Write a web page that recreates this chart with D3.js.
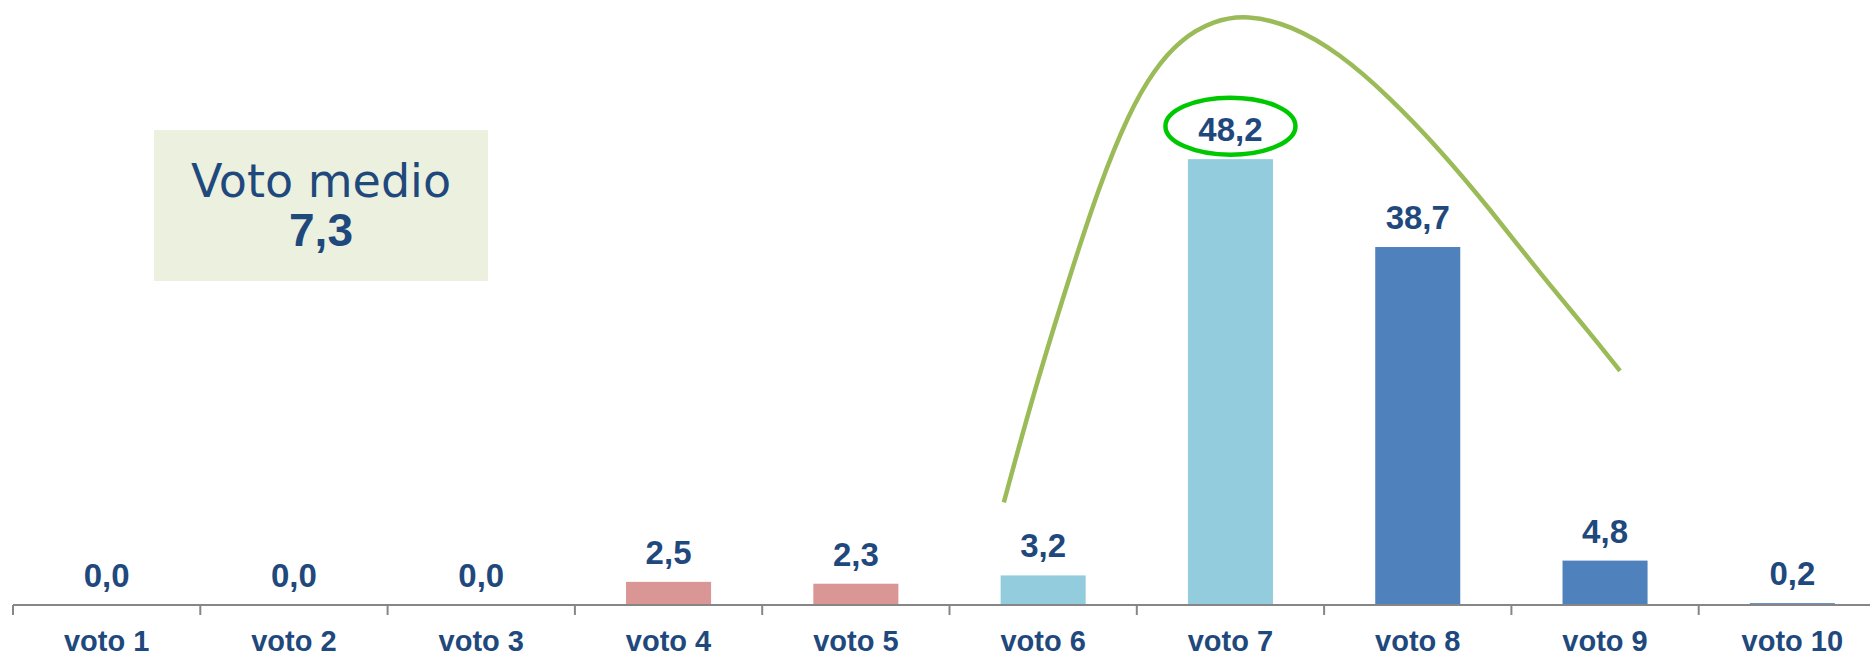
<!DOCTYPE html>
<html>
<head>
<meta charset="utf-8">
<title>Voto medio</title>
<script src="https://cdn.jsdelivr.net/npm/d3@7"></script>
<style>
  body { margin: 0; background: #fff; }
  svg { display: block; }
  .lbl { font-family: "Liberation Sans", Arial, sans-serif; font-weight: bold; fill: #1F497D; }
</style>
</head>
<body>
<svg id="chart" width="1870" height="657"></svg>
<script>

// --- data ---
const categories = ["voto 1", "voto 2", "voto 3", "voto 4", "voto 5", "voto 6", "voto 7", "voto 8", "voto 9", "voto 10"];
const values = [0.0, 0.0, 0.0, 2.5, 2.3, 3.2, 48.2, 38.7, 4.8, 0.2];
const groups = ["basso", "basso", "basso", "basso", "basso", "medio", "medio", "alto", "alto", "alto"];
const votoMedio = 7.3;
const highlighted = "voto 7";

// hand-drawn trend curve (x = category position 1..10, y = value)
const curveX = [5.79, 5.95, 6.13, 6.30, 6.46, 6.59, 6.73, 6.91, 7.09,
                7.32, 7.58, 7.85, 8.12, 8.39, 8.65, 8.92, 9.08];
const curveY = [11.1, 23.0, 34.8, 45.4, 53.3, 57.8, 61.1, 63.2, 63.8,
                62.7, 59.7, 54.9, 49.2, 42.7, 35.9, 29.4, 25.3];

const svg = d3.select("#chart");
const step = 187.3;
const left = 13, base = 605;

const fmt = d3.formatLocale({decimal: ",", thousands: ".", grouping: [3], currency: ["", "€"]}).format(".1f");

// category bands (no padding) for the axis, padded bands for bars
const xCat = d3.scaleBand().domain(categories).range([left, left + step * categories.length]).padding(0);
const x = d3.scaleBand().domain(categories).range([left, left + step * categories.length])
    .paddingInner(0.546).paddingOuter(0.273);
const xPos = d3.scaleLinear().domain([0.5, 10.5]).range([left, left + step * categories.length]);
const y = d3.scaleLinear().domain([0, 60]).range([base, base - 555]);

const color = d3.scaleOrdinal().domain(["basso", "medio", "alto"]).range(["#D99694", "#93CDDD", "#4F81BD"]);

// info box
const box = svg.append("g");
box.append("rect").attr("x", 154).attr("y", 130).attr("width", 334).attr("height", 151).attr("fill", "#EBF1DE");
box.append("text").attr("x", 321).attr("y", 197).attr("text-anchor", "middle")
    .style("font-family", "'DejaVu Sans', sans-serif").style("font-size", "46px").attr("fill", "#1F497D")
    .text("Voto medio");
box.append("text").attr("class", "lbl").attr("x", 321).attr("y", 246).attr("text-anchor", "middle")
    .style("font-size", "46px").text(fmt(votoMedio));

// bars
svg.append("g").selectAll("rect").data(values).join("rect")
    .attr("x", (d, i) => x(categories[i]))
    .attr("y", d => y(d))
    .attr("width", x.bandwidth())
    .attr("height", d => base - y(d))
    .attr("fill", (d, i) => color(groups[i]));

// value labels
svg.append("g").selectAll("text").data(values).join("text")
    .attr("class", "lbl")
    .attr("x", (d, i) => x(categories[i]) + x.bandwidth() / 2)
    .attr("y", d => y(d) - 18)
    .attr("text-anchor", "middle")
    .style("font-size", "33px")
    .text(d => fmt(d));

// ellipse round the top value
const hi = categories.indexOf(highlighted);
svg.append("ellipse")
    .attr("cx", x(highlighted) + x.bandwidth() / 2)
    .attr("cy", y(values[hi]) - 33)
    .attr("rx", 65).attr("ry", 28.5)
    .attr("fill", "none").attr("stroke", "#00C800").attr("stroke-width", 4.5);

// trend curve
const line = d3.line().x(d => xPos(d[0])).y(d => y(d[1])).curve(d3.curveBasis);
svg.append("path")
    .datum(d3.zip(curveX, curveY))
    .attr("d", line)
    .attr("fill", "none").attr("stroke", "#9BBB59").attr("stroke-width", 4.5);

// x axis
const ax = svg.append("g");
ax.append("line").attr("x1", left).attr("x2", 1870).attr("y1", base).attr("y2", base)
    .attr("stroke", "#868686").attr("stroke-width", 2);
ax.selectAll(".tick").data(categories).join("line")
    .attr("x1", d => xCat(d)).attr("x2", d => xCat(d))
    .attr("y1", base).attr("y2", base + 10)
    .attr("stroke", "#868686").attr("stroke-width", 2);
ax.selectAll("text").data(categories).join("text")
    .attr("class", "lbl")
    .attr("x", d => xCat(d) + xCat.bandwidth() / 2)
    .attr("y", 651)
    .attr("text-anchor", "middle")
    .style("font-size", "29px")
    .text(d => d);

</script>
</body>
</html>
